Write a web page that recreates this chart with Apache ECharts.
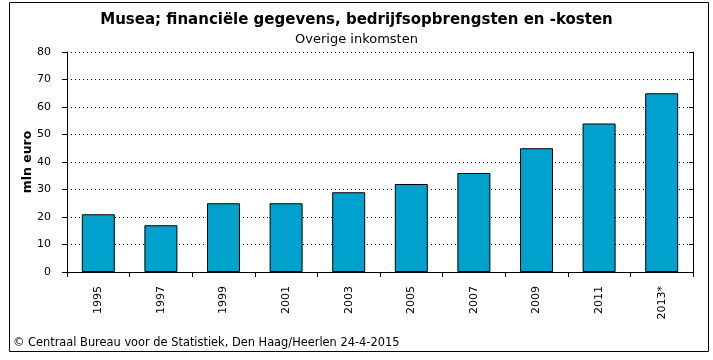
<!DOCTYPE html>
<html><head><meta charset="utf-8">
<script src="https://cdn.jsdelivr.net/npm/echarts@6/dist/echarts.min.js"></script>
<style>html,body{margin:0;padding:0;background:#fff}#c{width:713px;height:360px}</style>
</head><body><div id="c"></div>
<script>
const categories = ['1995','1997','1999','2001','2003','2005','2007','2009','2011','2013*'];
const values = [21, 17, 25, 25, 29, 32, 36, 45, 54, 65];
const yTicks = [0, 10, 20, 30, 40, 50, 60, 70, 80];
const titleText = 'Musea; financiële gegevens, bedrijfsopbrengsten en -kosten';
const subtitleText = 'Overige inkomsten';
const yName = 'mln euro';
const footer = '© Centraal Bureau voor de Statistiek, Den Haag/Heerlen 24-4-2015';

const F = '"DejaVu Sans", Verdana, sans-serif';
const chart = echarts.init(document.getElementById('c'));
chart.setOption({
  animation: false,
  title: {
    text: titleText, subtext: subtitleText, left: 'center', top: 8, itemGap: 5,
    textStyle: {fontFamily: F, fontSize: 15, fontWeight: 'bold', color: '#000'},
    subtextStyle: {fontFamily: F, fontSize: 13, color: '#000'}
  },
  grid: {left: 67, right: 20, top: 52, bottom: 88, containLabel: false},
  xAxis: [{
    type: 'category', data: categories, position: 'bottom',
    axisLine: {lineStyle: {color: '#000', width: 1}},
    axisTick: {show: true, length: 5, inside: false, lineStyle: {color: '#000'}},
    axisLabel: {rotate: 90, margin: 14, fontFamily: F, fontSize: 11, color: '#000'}
  }, {
    type: 'category', data: categories, position: 'top',
    axisLine: {lineStyle: {color: '#000', width: 1}},
    axisTick: {show: true, length: 4, inside: true, lineStyle: {color: '#000'}},
    axisLabel: {show: false}
  }],
  yAxis: [{
    type: 'value', min: yTicks[0], max: yTicks[yTicks.length - 1], interval: 10,
    name: yName, nameLocation: 'middle', nameGap: 33, nameRotate: 90, nameMoveOverlap: false,
    nameTextStyle: {fontFamily: F, fontSize: 12.5, fontWeight: 'bold', color: '#000'},
    axisLine: {show: true, lineStyle: {color: '#000'}},
    axisTick: {show: true, length: 5, lineStyle: {color: '#000'}},
    axisLabel: {margin: 16, fontFamily: F, fontSize: 11, color: '#000'},
    splitLine: {show: true, lineStyle: {color: '#000', type: [1, 3], width: 1}}
  }, {
    type: 'value', min: yTicks[0], max: yTicks[yTicks.length - 1], interval: 10, position: 'right',
    axisLine: {show: true, lineStyle: {color: '#000'}},
    axisTick: {show: true, inside: true, length: 4, lineStyle: {color: '#000'}},
    axisLabel: {show: false}, splitLine: {show: false}
  }],
  series: [{
    type: 'bar', data: values, barWidth: 33,
    itemStyle: {color: '#00a2cd', borderColor: '#000', borderWidth: 1}
  }],
  graphic: [
    {type: 'rect', shape: {x: 9.5, y: 2.5, width: 699, height: 349}, style: {fill: 'none', stroke: '#000', lineWidth: 1}, silent: true},
    {type: 'text', left: 13, top: 338, style: {text: footer, font: '11.4px ' + F, fill: '#000'}}
  ]
});
</script></body></html>
